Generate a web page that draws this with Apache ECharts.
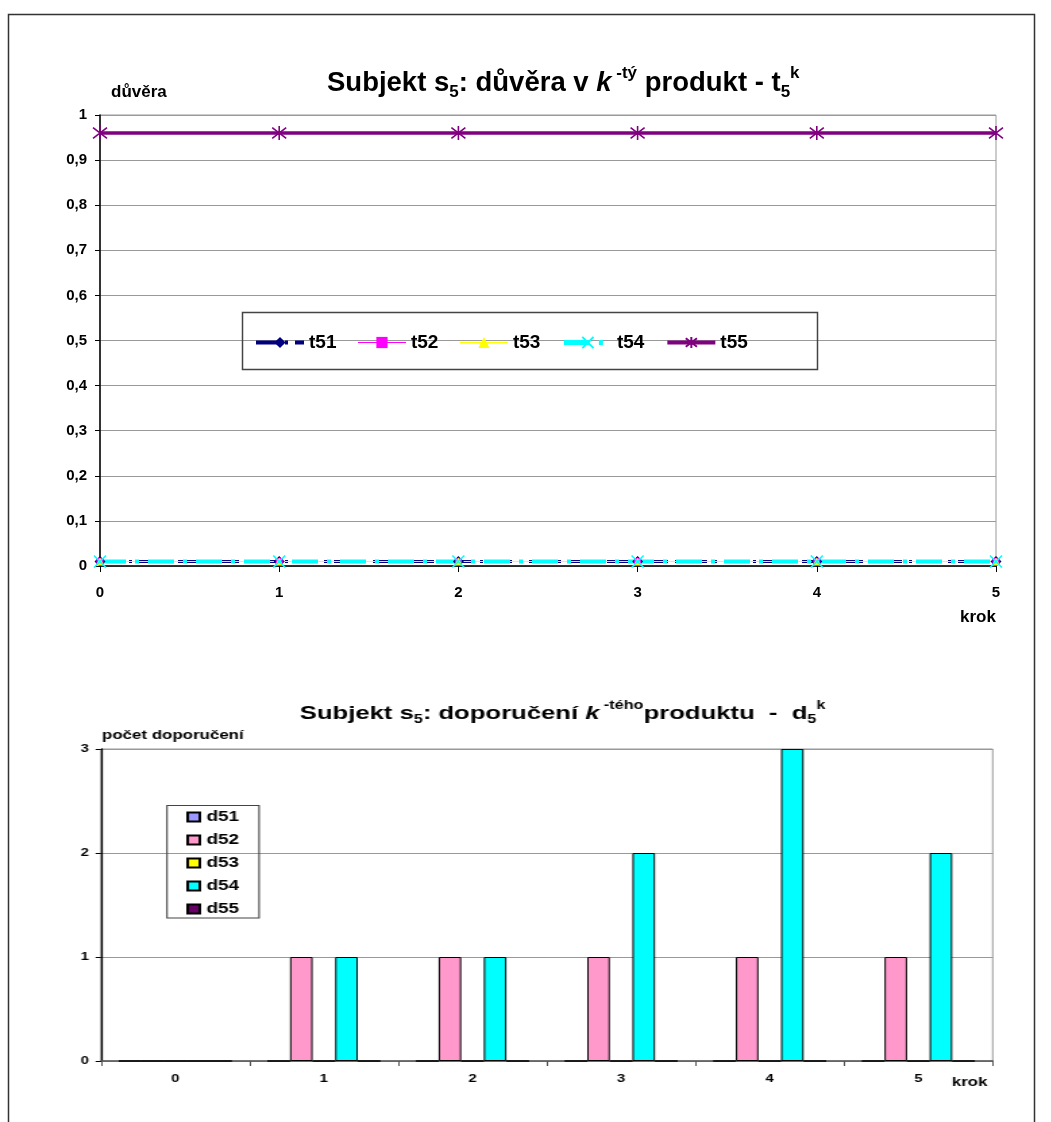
<!DOCTYPE html>
<html>
<head>
<meta charset="utf-8">
<script src="https://cdn.jsdelivr.net/npm/echarts@6/dist/echarts.min.js"></script>
<style>
  html, body { margin: 0; padding: 0; background: #fff; overflow: hidden; }
  #page { position: relative; width: 1051px; height: 1122px; }
  #trust { position: absolute; left: 0; top: 0; width: 1051px; height: 1122px; }
  /* the recommendation chart is laid out narrow and widened, like a stretched embedded chart */
  #recs { position: absolute; left: 0; top: 680px; width: 778.5px; height: 442px;
          transform: scaleX(1.35); transform-origin: 0 0; }
</style>
</head>
<body>
<div id="page">
  <div id="trust"></div>
  <div id="recs"></div>
</div>
<script>
// Steps (krok) shared by both charts
const steps = [0, 1, 2, 3, 4, 5];

// Trust of subject s5 in the k-th product
const t51 = [0.01, 0.01, 0.01, 0.01, 0.01, 0.01];
const t52 = [0.01, 0.01, 0.01, 0.01, 0.01, 0.01];
const t53 = [0.01, 0.01, 0.01, 0.01, 0.01, 0.01];
const t54 = [0.01, 0.01, 0.01, 0.01, 0.01, 0.01];
const t55 = [0.96, 0.96, 0.96, 0.96, 0.96, 0.96];

// Number of recommendations of the k-th product
const d51 = [0, 0, 0, 0, 0, 0];
const d52 = [0, 1, 1, 1, 1, 1];
const d53 = [0, 0, 0, 0, 0, 0];
const d54 = [0, 1, 1, 2, 3, 2];
const d55 = [0, 0, 0, 0, 0, 0];

// Tick labels
const trustTicks = ['0', '0,1', '0,2', '0,3', '0,4', '0,5', '0,6', '0,7', '0,8', '0,9', '1'];
const stepTicks = ['0', '1', '2', '3', '4', '5'];
const countTicks = ['0', '1', '2', '3'];

const FONT = '"Liberation Sans", Arial, sans-serif';
const pairs = arr => steps.map((s, i) => [s, arr[i]]);

const xMark = 'path://M0,0L10,10M10,0L0,10';
const starMark = 'path://M0,0L10,10M10,0L0,10M5,-1.5L5,11.5';

function lineSeries(name, data, color, width, type, symbol, size, strokeSymbol) {
  return {
    name, type: 'line',
    data: pairs(data),
    symbol, symbolSize: size,
    lineStyle: { color, width, type },
    itemStyle: strokeSymbol
      ? { color: 'rgba(0,0,0,0)', borderColor: color, borderWidth: 1.6 }
      : { color, borderColor: color, borderWidth: 0 },
    emphasis: { disabled: true },
    animation: false
  };
}

function barSeries(name, data, color) {
  return {
    name, type: 'bar',
    data,
    barGap: '0%', barCategoryGap: '24%',
    itemStyle: { color, borderColor: '#000', borderWidth: 1 },
    emphasis: { disabled: true },
    animation: false
  };
}

const titleRich = size => {
  const lh = Math.round(size * 1.5);
  const small = Math.round(size * 0.62);
  return {
    a: { fontSize: size, fontWeight: 'bold', fontFamily: FONT, color: '#000', lineHeight: lh, verticalAlign: 'middle' },
    i: { fontSize: size, fontWeight: 'bold', fontStyle: 'italic', fontFamily: FONT, color: '#000', lineHeight: lh, verticalAlign: 'middle' },
    sub: { fontSize: small, fontWeight: 'bold', fontFamily: FONT, color: '#000', lineHeight: lh, verticalAlign: 'bottom', padding: [0, 0, Math.round(size * 0.12), 0] },
    sup: { fontSize: small, fontWeight: 'bold', fontFamily: FONT, color: '#000', lineHeight: lh, verticalAlign: 'top', padding: [Math.round(size * 0.06), 0, 0, 0] }
  };
};

// ---- Trust chart (důvěra) ----
const trustChart = echarts.init(document.getElementById('trust'), null, { renderer: 'canvas' });
trustChart.setOption({
  backgroundColor: '#fff',
  animation: false,
  title: {
    text: '{a|Subjekt s}{sub|5}{a|: důvěra v }{i|k}{sup| -tý}{a| produkt - t}{sub|5}{sup|k}',
    left: 322, top: 58,
    textStyle: { rich: titleRich(27.5) }
  },
  legend: {
    data: [
      { name: 't51', lineStyle: { width: 4 } },
      { name: 't52', lineStyle: { width: 1 } },
      { name: 't53', lineStyle: { width: 1 } },
      { name: 't54', lineStyle: { width: 5 } },
      { name: 't55', lineStyle: { width: 4 } }
    ],
    orient: 'horizontal',
    left: 249, top: 328,
    itemWidth: 48, itemHeight: 14, itemGap: 21,
    textStyle: { fontFamily: FONT, fontWeight: 'bold', fontSize: 19, color: '#000' },
    selectedMode: false
  },
  grid: { left: 100, right: 55, top: 115, bottom: 556, show: true, borderColor: '#999', borderWidth: 1, backgroundColor: 'transparent' },
  xAxis: {
    type: 'value', min: 0, max: 5, interval: 1,
    axisLine: { show: true, lineStyle: { color: '#000', width: 1.5 } },
    axisTick: { show: true, length: 6, lineStyle: { color: '#000' } },
    axisLabel: {
      margin: 19, fontFamily: FONT, fontWeight: 'bold', fontSize: 15, color: '#000',
      formatter: v => stepTicks[Math.round(v)]
    },
    splitLine: { show: false }
  },
  yAxis: {
    type: 'value', min: 0, max: 1, interval: 0.1,
    axisLine: { show: true, lineStyle: { color: '#000', width: 1.5 } },
    axisTick: { show: true, length: 5, lineStyle: { color: '#000' } },
    axisLabel: {
      margin: 13, fontFamily: FONT, fontWeight: 'bold', fontSize: 15, color: '#000',
      formatter: v => trustTicks[Math.round(v * 10)]
    },
    splitLine: { show: true, lineStyle: { color: '#999', width: 1 } }
  },
  graphic: [
    // outer frame
    { type: 'polyline', silent: true, shape: { points: [[8.5, 1122], [8.5, 14.5], [1034.5, 14.5], [1034.5, 1122]] }, style: { stroke: '#333', lineWidth: 1.5, fill: null } },
    // legend frame
    { type: 'rect', silent: true, shape: { x: 242.5, y: 312.5, width: 575, height: 57 }, style: { stroke: '#444', lineWidth: 1.5, fill: null }, z: 10 },
    // axis names
    { type: 'text', left: 111, top: 84, style: { text: 'důvěra', font: 'bold 17px ' + FONT, fill: '#000' } },
    { type: 'text', left: 960, top: 609, style: { text: 'krok', font: 'bold 17px ' + FONT, fill: '#000' } }
  ],
  series: [
    lineSeries('t51', t51, '#000080', 3, [22, 7, 3, 7], 'diamond', 11, false),
    lineSeries('t52', t52, '#FF00FF', 1, 'solid', 'rect', 7, false),
    lineSeries('t53', t53, '#FFFF00', 1, 'solid', 'triangle', 8, false),
    lineSeries('t54', t54, '#00FFFF', 4, [26, 9, 4, 9], xMark, 12, true),
    lineSeries('t55', t55, '#800080', 3.5, 'solid', starMark, 14, true)
  ]
});

// ---- Recommendation chart (počet doporučení) ----
const recChart = echarts.init(document.getElementById('recs'), null, { renderer: 'canvas' });
recChart.setOption({
  backgroundColor: 'transparent',
  animation: false,
  title: {
    text: '{a|Subjekt s}{sub|5}{a|: doporučení }{i|k}{sup| -tého}{a|produktu  -  d}{sub|5}{sup|k}',
    left: 217, top: 14,
    textStyle: { rich: titleRich(19) }
  },
  legend: {
    data: ['d51', 'd52', 'd53', 'd54', 'd55'],
    orient: 'vertical',
    left: 133, top: 125,
    itemWidth: 9, itemHeight: 9, itemGap: 9,
    icon: 'rect',
    textStyle: { fontFamily: FONT, fontWeight: 'bold', fontSize: 14, color: '#000' },
    selectedMode: false
  },
  grid: { left: 74.8, right: 43.7, top: 69, bottom: 61, show: true, borderColor: '#999', borderWidth: 1, backgroundColor: 'transparent' },
  xAxis: {
    type: 'category', data: stepTicks, boundaryGap: true,
    axisLine: { show: true, lineStyle: { color: '#555', width: 1.5 } },
    axisTick: { show: true, length: 5, interval: 0, lineStyle: { color: '#555' } },
    axisLabel: { margin: 12, fontFamily: FONT, fontWeight: 'bold', fontSize: 11, color: '#000' },
    splitLine: { show: false }
  },
  yAxis: {
    type: 'value', min: 0, max: 3, interval: 1,
    axisLine: { show: true, lineStyle: { color: '#000', width: 1.3 } },
    axisTick: { show: true, length: 4, lineStyle: { color: '#000' } },
    axisLabel: {
      margin: 9, fontFamily: FONT, fontWeight: 'bold', fontSize: 11, color: '#000',
      formatter: v => countTicks[Math.round(v)]
    },
    splitLine: { show: true, lineStyle: { color: '#999', width: 1 } }
  },
  graphic: [
    // legend frame
    { type: 'rect', silent: true, shape: { x: 123.7, y: 125.5, width: 68.2, height: 112.5 }, style: { stroke: '#444', lineWidth: 1.1, fill: null }, z: 10 },
    // axis names
    { type: 'text', left: 75.6, top: 49, style: { text: 'počet doporučení', font: 'bold 12.5px ' + FONT, fill: '#000' } },
    { type: 'text', left: 705, top: 396, style: { text: 'krok', font: 'bold 12.5px ' + FONT, fill: '#000' } }
  ],
  series: [
    barSeries('d51', d51, '#9999FF'),
    barSeries('d52', d52, '#FF99CC'),
    barSeries('d53', d53, '#FFFF00'),
    barSeries('d54', d54, '#00FFFF'),
    barSeries('d55', d55, '#660066')
  ]
});
</script>
</body>
</html>
